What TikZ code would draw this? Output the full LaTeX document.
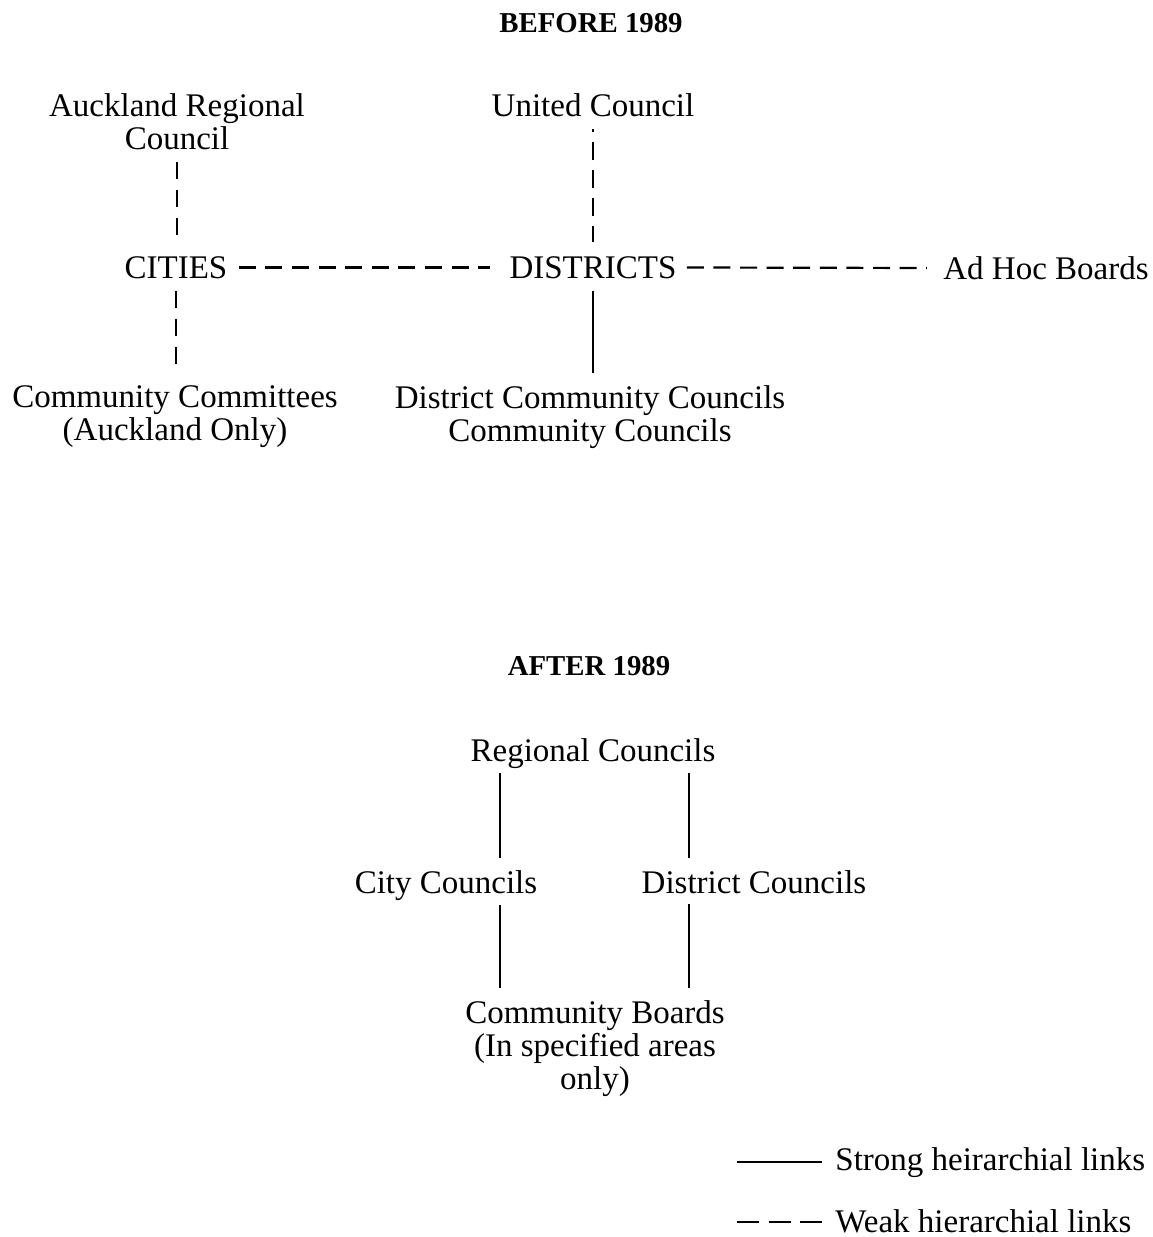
\documentclass[tikz,border=0pt]{standalone}
\usepackage{fontspec}
\setmainfont{Liberation Serif}
\begin{document}
\begin{tikzpicture}[x=0.5pt,y=-0.5pt,
  lbl/.style={inner sep=0pt, align=center, font=\fontsize{16.5}{16.5}\selectfont, anchor=north},
  ttl/.style={inner sep=0pt, font=\bfseries\fontsize{14.4}{16}\selectfont, anchor=north},
  strong/.style={line width=1.1pt},
  weak/.style={line width=1.1pt, dash pattern=on 8.5pt off 4.8pt},
  vweak/.style={line width=1.1pt, dash pattern=on 8.5pt off 5.5pt},
  legweak/.style={line width=1.1pt, dash pattern=on 11pt off 4.75pt}]
\useasboundingbox (0,0) rectangle (1152,1237);

% ---------- BEFORE 1989 ----------
\node[ttl] (before) at (591,13) {BEFORE 1989};
\node[lbl] (arc) at (177,93) {Auckland Regional\\Council};
\node[lbl] (uc) at (593,93) {United Council};
\node[lbl] (cities) at (176,256) {CITIES};
\node[lbl] (districts) at (593,256) {DISTRICTS};
\node[lbl] (adhoc) at (1046,256) {Ad Hoc Boards};
\node[lbl] (cc) at (175,385) {Community Committees\\(Auckland Only)};
\node[lbl] (dcc) at (590,385) {District Community Councils\\Community Councils};

\draw[vweak, shorten <=6pt, shorten >=6pt] (arc.south) -- (arc.south |- cities.north);
\draw[vweak, shorten <=6pt, shorten >=6pt] (cities.south) -- (cities.south |- cc.north);
\draw[vweak, dash pattern=on 1.5pt off 5pt on 9pt off 5pt on 9pt off 5pt on 9pt off 5pt on 9pt off 5pt on 2pt off 10pt, shorten <=6pt, shorten >=7pt] (uc.south) -- (uc.south |- districts.north);
\draw[strong, shorten <=6pt, shorten >=6pt] (districts.south) -- (districts.south |- dcc.north);
\draw[weak, shorten <=5.5pt, shorten >=9.5pt] (cities.east) -- (districts.west);
\draw[weak, shorten <=5pt, shorten >=8pt] (districts.east) -- (adhoc.west);

% ---------- AFTER 1989 ----------
\node[ttl] (after) at (589,656) {AFTER 1989};
\node[lbl] (rc) at (593,738) {Regional Councils};
\node[lbl] (city) at (446,870) {City Councils};
\node[lbl] (dist) at (754,870) {District Councils};
\node[lbl] (cb) at (595,1000) {Community Boards\\(In specified areas\\only)};

\coordinate (lx) at (500,0);
\coordinate (rx) at (689,0);
\draw[strong, shorten <=2pt, shorten >=6pt] (rc.south -| lx) -- (city.north -| lx);
\draw[strong, shorten <=2pt, shorten >=6pt] (rc.south -| rx) -- (dist.north -| rx);
\draw[strong, shorten <=2pt, shorten >=6pt] (city.south -| lx) -- (cb.north -| lx);
\draw[strong, shorten <=5pt, shorten >=6pt] (dist.south -| rx) -- (cb.north -| rx);

% ---------- Legend ----------
\node[lbl, anchor=west] (strongtxt) at (835,1163) {Strong heirarchial links};
\node[lbl, anchor=west] (weaktxt) at (835,1221) {Weak hierarchial links};
\coordinate (sl) at (737,1162);
\coordinate (wl) at (737,1222);
\draw[strong, shorten >=6.5pt] (sl) -- (sl -| strongtxt.west);
\draw[legweak, shorten >=6.5pt] (wl) -- (wl -| weaktxt.west);
\end{tikzpicture}
\end{document}
